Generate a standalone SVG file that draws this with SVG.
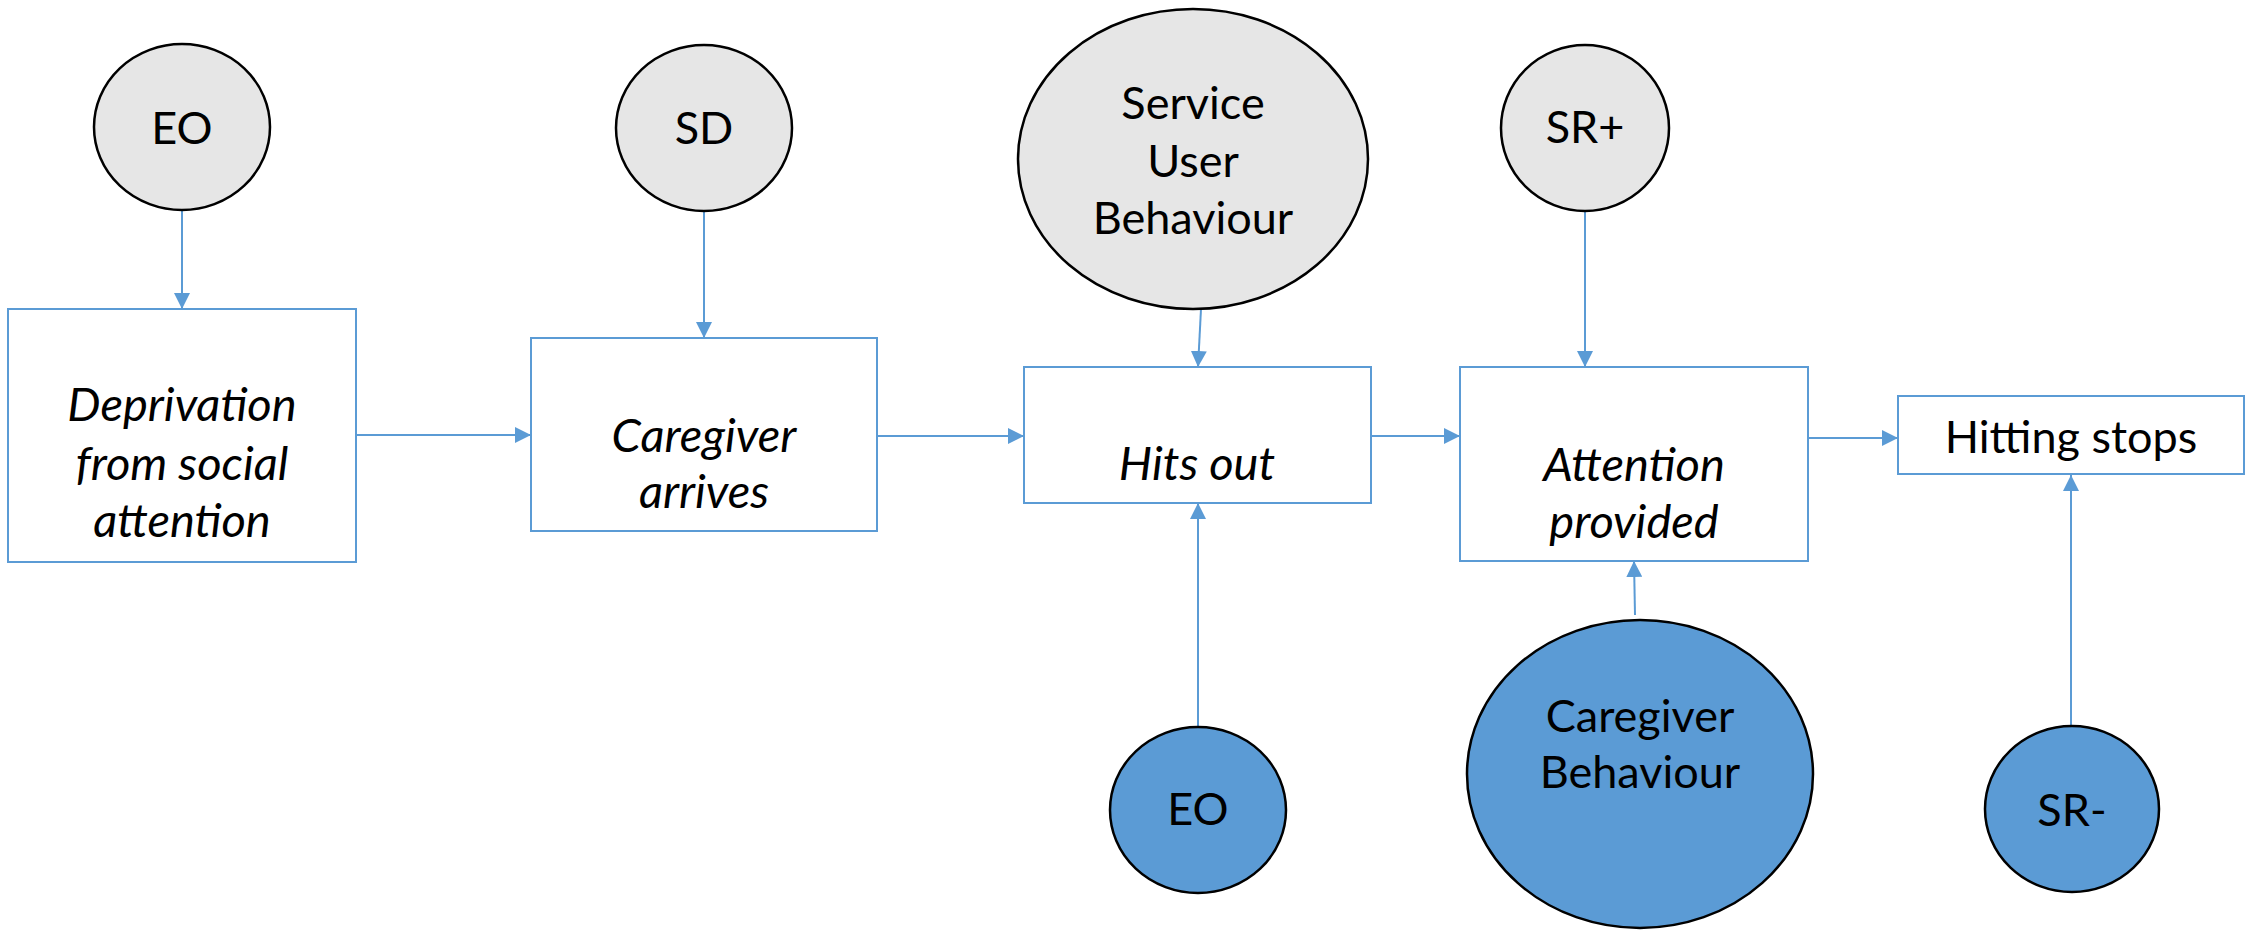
<svg xmlns="http://www.w3.org/2000/svg" width="2246" height="930" viewBox="0 0 2246 930">
<style>
.box{fill:#fff;stroke:#5B9BD5;stroke-width:2}
.eg{fill:#E6E6E6;stroke:#000;stroke-width:2.5}
.eb{fill:#5B9BD5;stroke:#000;stroke-width:2.5}
.c{fill:none;stroke:#5B9BD5;stroke-width:2;marker-end:url(#ah)}
text{font-family:Lato,"Open Sans","Liberation Sans",sans-serif;font-size:45px;fill:#000;text-anchor:middle}
.i{font-style:italic;font-size:47px}
</style>
<defs>
<marker id="ah" markerUnits="userSpaceOnUse" markerWidth="16" markerHeight="16" refX="16" refY="8" orient="auto" viewBox="0 0 16 16">
<path d="M0,0 L16,8 L0,16 z" fill="#5B9BD5"/>
</marker>
</defs>
<rect width="2246" height="930" fill="#fff"/>
<g id="connectors">
<line class="c" x1="182" y1="210" x2="182" y2="309"/>
<line class="c" x1="704" y1="211" x2="704" y2="338"/>
<line class="c" x1="356" y1="435" x2="531" y2="435"/>
<line class="c" x1="877" y1="436" x2="1024" y2="436"/>
<line class="c" x1="1201" y1="309" x2="1198" y2="367"/>
<line class="c" x1="1198" y1="727" x2="1198" y2="503"/>
<line class="c" x1="1585" y1="211" x2="1585" y2="367"/>
<line class="c" x1="1371" y1="436" x2="1460" y2="436"/>
<line class="c" x1="1635" y1="615" x2="1634" y2="561"/>
<line class="c" x1="1808" y1="438" x2="1898" y2="438"/>
<line class="c" x1="2071" y1="726" x2="2071" y2="475"/>
</g>
<g id="eo-top"><ellipse class="eg" cx="182" cy="127" rx="88" ry="83"/><text x="182" y="144">EO</text></g>
<g id="sd"><ellipse class="eg" cx="704" cy="128" rx="88" ry="83"/><text x="704" y="144">SD</text></g>
<g id="service-user-behaviour"><ellipse class="eg" cx="1193" cy="159" rx="175" ry="150"/><text x="1193" y="119">Service</text><text x="1193" y="177">User</text><text x="1193" y="234">Behaviour</text></g>
<g id="sr-plus"><ellipse class="eg" cx="1585" cy="128" rx="84" ry="83"/><text x="1585" y="143">SR+</text></g>
<g id="deprivation"><rect class="box" x="8" y="309" width="348" height="253"/><text class="i" x="182" y="421">Deprivation</text><text class="i" x="182" y="480">from social</text><text class="i" x="182" y="537">attention</text></g>
<g id="caregiver-arrives"><rect class="box" x="531" y="338" width="346" height="193"/><text class="i" x="704" y="452">Caregiver</text><text class="i" x="704" y="508">arrives</text></g>
<g id="hits-out"><rect class="box" x="1024" y="367" width="347" height="136"/><text class="i" x="1197" y="480">Hits out</text></g>
<g id="attention-provided"><rect class="box" x="1460" y="367" width="348" height="194"/><text class="i" x="1634" y="481">Attention</text><text class="i" x="1634" y="538">provided</text></g>
<g id="hitting-stops"><rect class="box" x="1898" y="396" width="346" height="78"/><text x="2071" y="453">Hitting stops</text></g>
<g id="eo-bottom"><ellipse class="eb" cx="1198" cy="810" rx="88" ry="83"/><text x="1198" y="825">EO</text></g>
<g id="caregiver-behaviour"><ellipse class="eb" cx="1640" cy="774" rx="173" ry="154"/><text x="1640" y="732">Caregiver</text><text x="1640" y="788">Behaviour</text></g>
<g id="sr-minus"><ellipse class="eb" cx="2072" cy="809" rx="87" ry="83"/><text x="2072" y="826">SR-</text></g>
</svg>
